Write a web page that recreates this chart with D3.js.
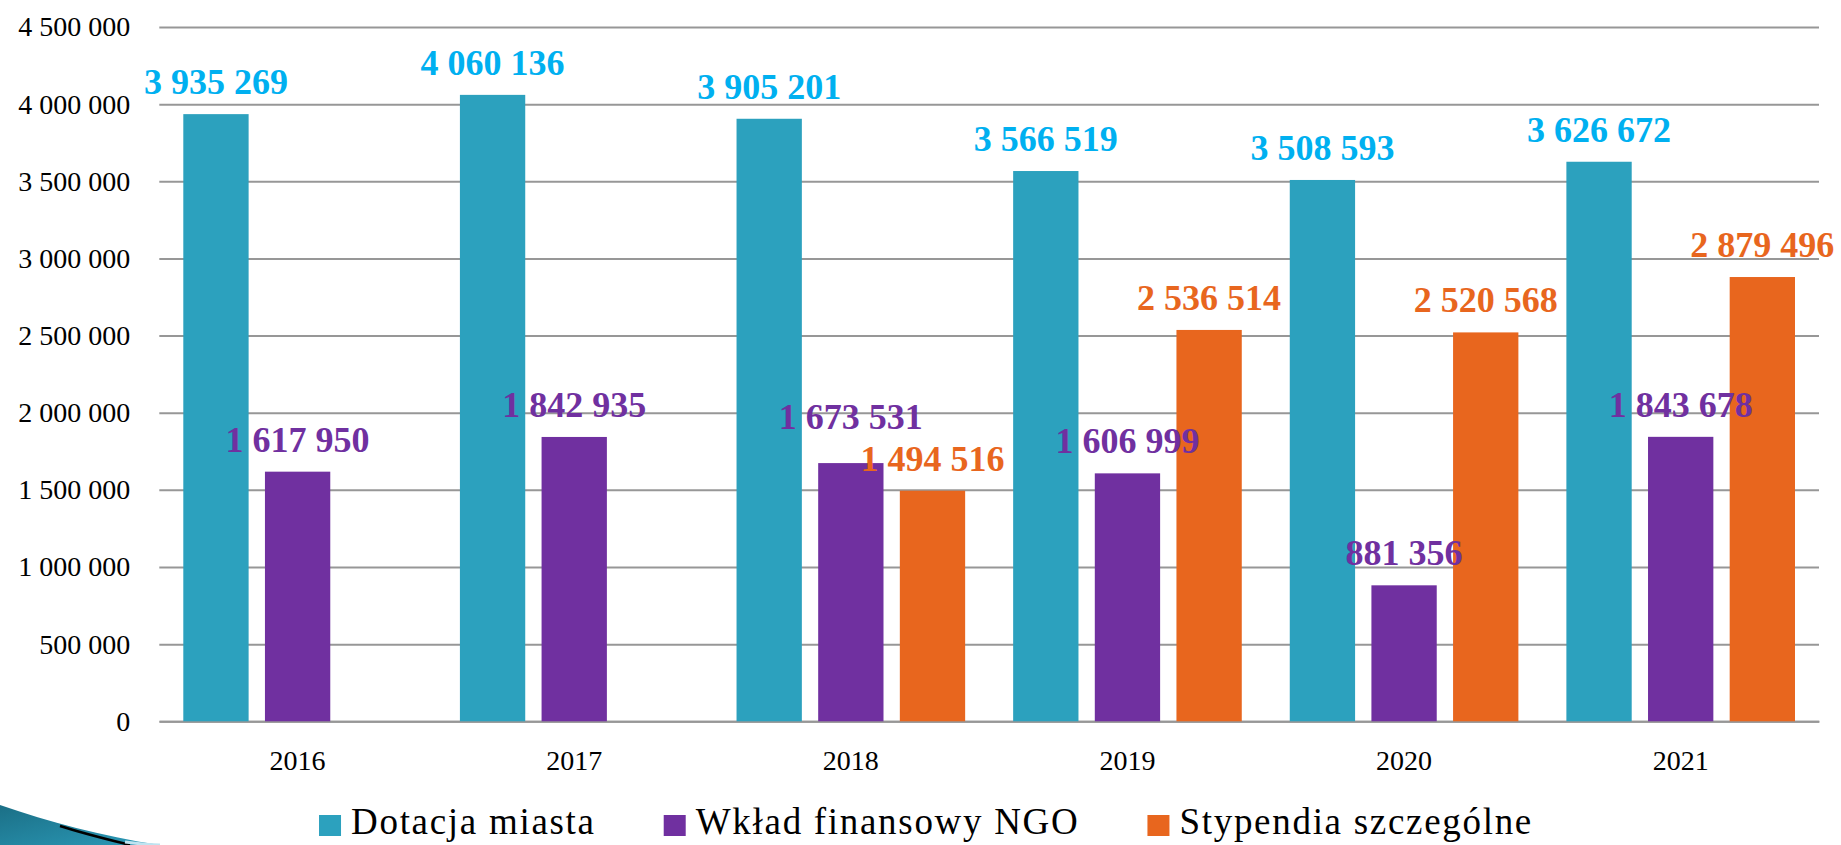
<!DOCTYPE html>
<html>
<head>
<meta charset="utf-8">
<script src="https://cdn.jsdelivr.net/npm/d3@7"></script>
<style>
    body { margin: 0; background: #fff; }
    svg { display: block; }
    svg text { font-family: "Liberation Serif", "DejaVu Serif", serif; }
</style>
</head>
<body>
<div id="chart"></div>
<script>
// Data
const years = ["2016", "2017", "2018", "2019", "2020", "2021"];
const seriesNames = ["Dotacja miasta", "Wkład finansowy NGO", "Stypendia szczególne"];
const dotacja = [3935269, 4060136, 3905201, 3566519, 3508593, 3626672];
const wklad = [1617950, 1842935, 1673531, 1606999, 881356, 1843678];
const stypendia = [null, null, 1494516, 2536514, 2520568, 2879496];
const yTicks = [0, 500000, 1000000, 1500000, 2000000, 2500000, 3000000, 3500000, 4000000, 4500000];

const barColors = ["#2ca1be", "#7030a0", "#e8661e"];
const labelColors = ["#00b0f0", "#7030a0", "#e8661e"];

const viewW = 1841;
const viewH = 845;

// plot area
const plot = { left: 159.3, right: 1819, top: 27, bottom: 721.3 };

const rows = years.map((yr, i) => ({
    year: yr,
    values: [dotacja[i], wklad[i], stypendia[i]]
}));

const svg = d3.select("#chart")
    .append("svg")
    .attr("width", viewW)
    .attr("height", viewH);

// Scales
const x0 = d3.scaleBand().domain(years).range([plot.left, plot.right]).padding(0);
const x1 = d3.scaleBand()
    .domain(d3.range(seriesNames.length))
    .range([24, x0.bandwidth() - 24])
    .paddingInner(0.2)
    .paddingOuter(0);
const y = d3.scaleLinear().domain([0, 4500000]).range([plot.bottom, plot.top]);

const fmt = d3.formatLocale({ decimal: ",", thousands: " ", grouping: [3], currency: ["", " zł"] }).format(",d");

// Gridlines + y labels
const yAxis = svg.append("g")
    .attr("transform", `translate(${plot.left},0)`)
    .call(d3.axisLeft(y).tickValues(yTicks).tickFormat(fmt)
        .tickSizeInner(-(plot.right - plot.left)).tickSizeOuter(0).tickPadding(29));
yAxis.attr("font-family", null).attr("font-size", null);
yAxis.select(".domain").remove();
yAxis.selectAll(".tick line").attr("stroke", "#979797").attr("stroke-width", 2);
yAxis.selectAll(".tick text")
    .attr("fill", "#000")
    .style("font-size", "28px");

// x axis
const xAxis = svg.append("g")
    .attr("transform", `translate(0,${plot.bottom})`)
    .call(d3.axisBottom(x0).tickSize(0).tickPadding(29));
xAxis.attr("font-family", null).attr("font-size", null);
xAxis.select(".domain").attr("stroke", "#979797").attr("stroke-width", 2);
xAxis.selectAll(".tick text")
    .attr("fill", "#000")
    .style("font-size", "28px");

// Bars
const groups = svg.append("g")
    .selectAll("g")
    .data(rows)
    .join("g")
    .attr("transform", d => `translate(${x0(d.year)},0)`);

const cells = d => d.values.map((v, i) => ({ v, i })).filter(c => c.v != null);

groups.selectAll("rect")
    .data(cells)
    .join("rect")
    .attr("x", c => x1(c.i))
    .attr("y", c => y(c.v))
    .attr("width", x1.bandwidth())
    .attr("height", c => plot.bottom - y(c.v))
    .attr("fill", c => barColors[c.i]);

// Value labels
groups.each(function () {
    const labels = d3.select(this).selectAll("text.val")
        .data(cells)
        .join("text")
        .attr("class", "val")
        .attr("x", c => x1(c.i) + x1.bandwidth() / 2)
        .attr("y", c => y(c.v) - 20)
        .attr("text-anchor", "middle")
        .attr("fill", c => labelColors[c.i])
        .style("font-size", "36px")
        .style("font-weight", "bold")
        .text(c => fmt(c.v));

    // push a label up if it collides with its right-hand neighbour
    const nodes = labels.nodes();
    for (let k = nodes.length - 2; k >= 0; k--) {
        const a = nodes[k].getBBox(), b = nodes[k + 1].getBBox();
        const hOverlap = a.x + a.width > b.x && b.x + b.width > a.x;
        const vOverlap = a.y + a.height > b.y && b.y + b.height > a.y;
        if (hOverlap && vOverlap) {
            const shift = (a.y + a.height) - b.y + 2;
            nodes[k].setAttribute("y", +nodes[k].getAttribute("y") - shift);
        }
    }
});

// Legend
const legend = svg.append("g");
const items = legend.selectAll("g")
    .data(seriesNames)
    .join("g");
items.append("rect")
    .attr("y", 815)
    .attr("width", 22)
    .attr("height", 21)
    .attr("fill", (d, i) => barColors[i]);
items.append("text")
    .attr("x", 32)
    .attr("y", 834)
    .attr("fill", "#000")
    .style("font-size", "37px")
    .style("letter-spacing", "1.7px")
    .text(d => d);

let pos = 0;
items.each(function () {
    const w = this.getBBox().width;
    d3.select(this).attr("transform", `translate(${pos},0)`);
    pos += w + 68;
});
const totalW = pos - 68;
legend.attr("transform", `translate(${926 - totalW / 2},0)`);

// Decorative swoosh bottom-left
const defs = svg.append("defs");
const grad = defs.append("linearGradient")
    .attr("id", "swoosh")
    .attr("x1", "0").attr("y1", "0").attr("x2", "1").attr("y2", "1");
grad.append("stop").attr("offset", "0").attr("stop-color", "#1b6f86");
grad.append("stop").attr("offset", "1").attr("stop-color", "#2b9ab8");

svg.append("path")
    .attr("d", "M0,805 C50,822 100,836 160,845 L0,845 Z")
    .attr("fill", "url(#swoosh)");
svg.append("path")
    .attr("d", "M60,826 C85,834 110,840 130,845")
    .attr("fill", "none")
    .attr("stroke", "#000")
    .attr("stroke-width", 2.5);
svg.append("path")
    .attr("d", "M125,842 C140,844 150,845 160,845")
    .attr("fill", "none")
    .attr("stroke", "#bfe3f0")
    .attr("stroke-width", 3);
</script>
</body>
</html>
